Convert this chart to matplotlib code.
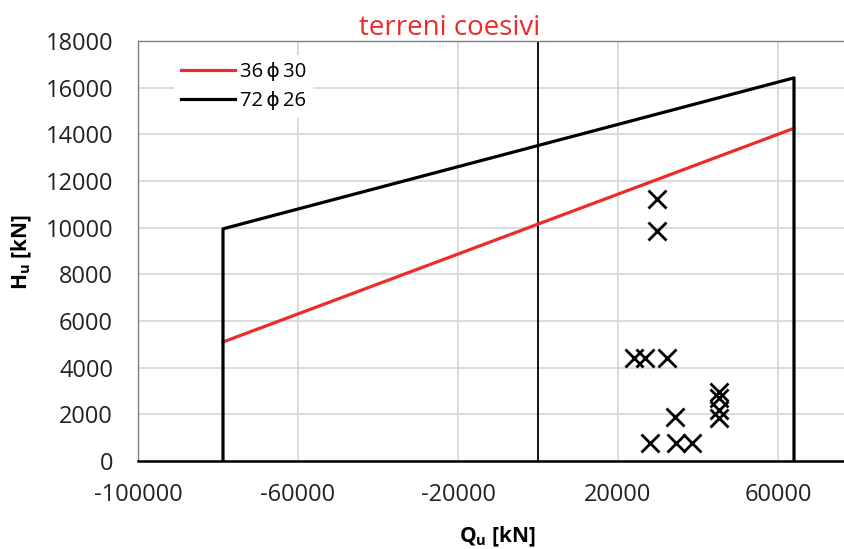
import matplotlib
matplotlib.use("Agg")
import matplotlib.pyplot as plt
from matplotlib.ticker import MultipleLocator

plt.rcParams['font.family'] = ['Open Sans', 'DejaVu Sans']
plt.rcParams['axes.unicode_minus'] = False

# Interaction domains (Q_u, H_u) in kN
q_72phi26 = [-78750, -78750, 64000, 64000]
h_72phi26 = [0, 9950, 16420, 0]
q_36phi30 = [-78750, 64000]
h_36phi30 = [5100, 14260]

# Load combinations
q_loads = [29700, 29700, 24000, 26700, 32200, 34300, 28000, 34500, 38400,
           45300, 45300, 45200, 45200]
h_loads = [11220, 9850, 4400, 4400, 4400, 1870, 760, 760, 760,
           2970, 2700, 2190, 1840]

x_ticks = [-100000, -60000, -20000, 20000, 60000]

W, H = 845, 549
x_min, x_max = -100000, 76750
ax_w = 707
fig = plt.figure(figsize=(W / 100, H / 100), dpi=100)
ax = fig.add_axes([138 / W, (H - 461) / H, ax_w / W, 420 / H])

ax.set_xlim(x_min, x_max)
ax.set_ylim(0, 18000)
ax.set_xticks(x_ticks)
ax.yaxis.set_major_locator(MultipleLocator(2000))
ax.grid(True, color='#d9d9d9', lw=1.3, zorder=0)
ax.set_axisbelow(True)
ax.tick_params(length=0, labelsize=17, colors='#222222')
ax.tick_params(axis='x', pad=16)
ax.tick_params(axis='y', pad=18)

for side in ('left', 'top'):
    ax.spines[side].set_color('#7f7f7f')
    ax.spines[side].set_linewidth(1.0)
ax.spines['right'].set_visible(False)
ax.spines['bottom'].set_color('black')
ax.spines['bottom'].set_linewidth(1.8)

ax.axvline(0, color='black', lw=1.3, zorder=2)

ax.plot(q_36phi30, h_36phi30, color='#ee2a2a', lw=2.3, zorder=3, label='36\u2009ϕ\u200930')
ax.plot(q_72phi26, h_72phi26, color='black', lw=2.3, zorder=4, label='72\u2009ϕ\u200926')
ax.plot(q_loads, h_loads, ls='none', marker='x', ms=13, mew=2.0, color='black', zorder=5)

leg = ax.legend(loc='upper left', bbox_to_anchor=(0.036, 0.99), frameon=True,
                fontsize=14.5, handlelength=2.7, handletextpad=0.25,
                borderpad=0.35, labelspacing=0.45)
leg.get_frame().set_facecolor('white')
leg.get_frame().set_edgecolor('none')
leg.get_frame().set_alpha(1)

ax.set_xlabel('Q$_\\mathregular{u}$ [kN]', fontsize=15, fontweight='bold')
ax.set_ylabel('H$_\\mathregular{u}$ [kN]', fontsize=15, fontweight='bold')
ax.xaxis.set_label_coords((497 - 138) / ax_w, -(525 - 461) / 420)
ax.yaxis.set_label_coords(-(138 - 34) / ax_w, (461 - 252) / 420)

fig.text(450 / W, 1 - 35 / H, 'terreni coesivi', color='#ee2a2a', fontsize=20,
         ha='center', va='baseline')

fig.savefig('out.png', dpi=100)
